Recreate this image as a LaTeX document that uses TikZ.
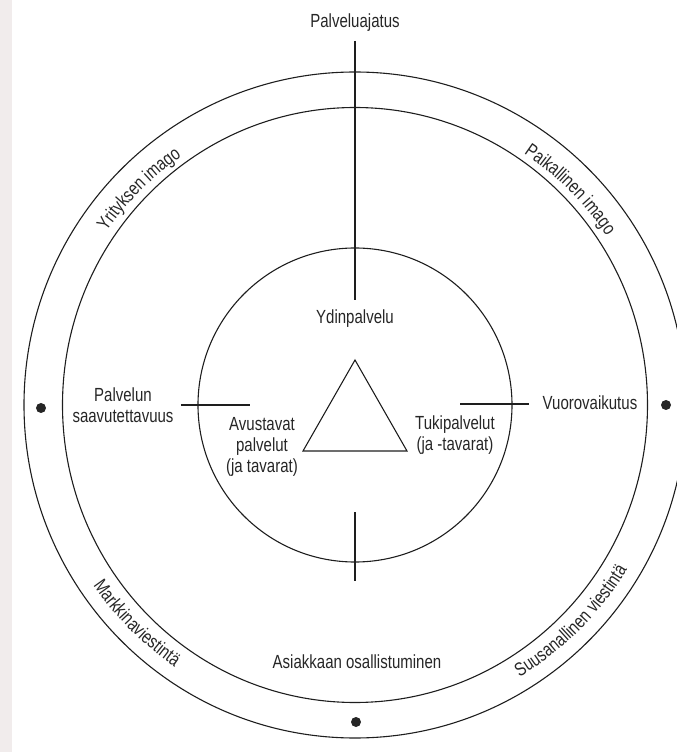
\documentclass[tikz,border=0pt]{standalone}
\usepackage{fontspec}
\setmainfont{Liberation Sans}[FakeStretch=0.79]
\usetikzlibrary{decorations.text}
\definecolor{ink}{HTML}{262626}
\definecolor{stroke}{HTML}{1E1E1E}
\definecolor{scan}{HTML}{F1ECEC}
\newcommand{\lblfont}{\fontsize{19}{21}\selectfont}
\tikzset{
  ring/.style={draw=stroke, line width=1.1pt},
  rule/.style={draw=stroke, line width=1.1pt},
  lbl/.style={text=ink, font=\lblfont, align=center, inner sep=0pt},
  dotmark/.style={fill=ink},
  arclbl/.style={decorate, decoration={text along path, text align=center, text={#1}}}
}
\begin{document}
\begin{tikzpicture}[x=1pt,y=1pt]
\useasboundingbox (-355,-347) rectangle (322,405);
\fill[scan] (-355,-347) rectangle (-343,405);
% circles
\draw[ring] (0,0) ellipse[x radius=331, y radius=333];
\draw[ring] (0,0) ellipse[x radius=292.5, y radius=297.5];
\draw[ring] (0,0) circle[radius=157];
% dots
\fill[dotmark] (-314,-3) circle[radius=5];
\fill[dotmark] (311,0) circle[radius=5];
\fill[dotmark] (1,-317) circle[radius=5];
% axis rules
\coordinate (topA) at (0,364);
\coordinate (topB) at (0,105);
\coordinate (botA) at (0,-107);
\coordinate (botB) at (0,-176);
\coordinate (leftA) at (-174,0);
\coordinate (leftB) at (-105,0);
\coordinate (rightA) at (105,1);
\coordinate (rightB) at (174,1);
\draw[rule] (topA) -- (topB);
\draw[rule] (botA) -- (botB);
\draw[rule] (leftA) -- (leftB);
\draw[rule] (rightA) -- (rightB);
% triangle
\coordinate (apex) at (0,45);
\coordinate (bl) at (-52,-46);
\coordinate (br) at (52,-46);
\draw[rule, line join=miter] (apex) -- (bl) -- (br) -- cycle;
% labels
\node[lbl] (idea) at (0,382) {Palveluajatus};
\node[lbl] (core) at (0,86) {Ydinpalvelu};
\node[lbl] (access) at (-232,0) {Palvelun\\saavutettavuus};
\node[lbl] (inter) at (235,2) {Vuorovaikutus};
\node[lbl] (facil) at (-93,-42) {Avustavat\\palvelut\\(ja tavarat)};
\node[lbl] (support) at (100,-30) {Tukipalvelut\\(ja -tavarat)};
\node[lbl] (partic) at (2,-257) {Asiakkaan osallistuminen};
% curved labels
\path[arclbl={|\lblfont\color{ink}|Yrityksen imago}] (160:303) arc[start angle=160, end angle=110, radius=303];
\path[arclbl={|\lblfont\color{ink}|Paikallinen imago}] (70:303) arc[start angle=70, end angle=20, radius=303];
\path[arclbl={|\lblfont\color{ink}|Markkinaviestintä}] (200:318) arc[start angle=200, end angle=250, radius=318];
\path[arclbl={|\lblfont\color{ink}|Suusanallinen viestintä}] (285:318) arc[start angle=285, end angle=345, radius=318];
\end{tikzpicture}
\end{document}
